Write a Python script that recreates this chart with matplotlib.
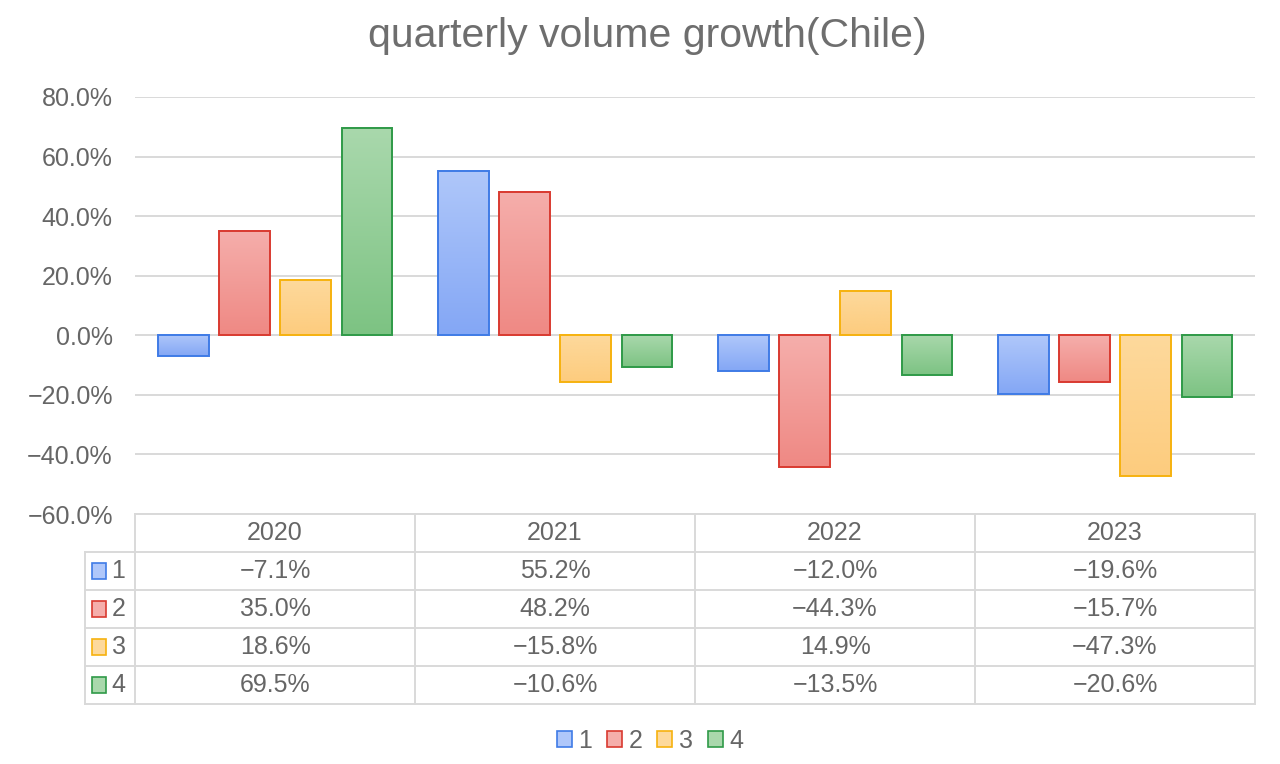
import matplotlib
matplotlib.use("Agg")
import matplotlib.pyplot as plt
import numpy as np
from matplotlib.patches import Rectangle, Patch
from matplotlib.colors import to_rgb

plt.rcParams['font.family'] = ['Liberation Sans', 'DejaVu Sans']

# ---- data ----
years = ["2020", "2021", "2022", "2023"]
quarters = ["1", "2", "3", "4"]
q1 = [-7.1, 55.2, -12.0, -19.6]
q2 = [35.0, 48.2, -44.3, -15.7]
q3 = [18.6, -15.8, 14.9, -47.3]
q4 = [69.5, -10.6, -13.5, -20.6]
series = [q1, q2, q3, q4]
yticks = [-60, -40, -20, 0, 20, 40, 60, 80]

# ---- style ----
edge_cols = ["#3f7be6", "#d93a30", "#f6b20f", "#2f9a48"]
top_cols = ["#afc7fa", "#f5aeab", "#fdd99c", "#a9d8ac"]
bot_cols = ["#84a7f5", "#ef8984", "#fdcc7e", "#7dc383"]
text_col = "#666666"
grid_col = "#d9d9d9"
fs = 18

fig = plt.figure(figsize=(12.8, 7.64), dpi=100)
ax = fig.add_axes([135/1280, 1-514/764, 1120/1280, (514-97)/764])

slot = 0.218
width = 0.179
n = len(series)
for i, vals in enumerate(series):
    c0 = np.array(to_rgb(top_cols[i]))
    c1 = np.array(to_rgb(bot_cols[i]))
    grad = np.linspace(0, 1, 64)[:, None]
    img = (c0[None, :] * (1 - grad) + c1[None, :] * grad)[:, None, :]
    for j, v in enumerate(vals):
        xc = j + (i - (n - 1) / 2) * slot
        x0 = xc - width / 2
        lo, hi = min(0, v), max(0, v)
        ax.imshow(img, extent=[x0, x0 + width, lo, hi], aspect='auto',
                  origin='upper', zorder=2, interpolation='bilinear')
        ax.add_patch(Rectangle((x0, lo), width, hi - lo, facecolor='none',
                               edgecolor=edge_cols[i], lw=1.4, zorder=3))

ax.set_xlim(-0.5, len(years) - 0.5)
ax.set_ylim(-60, 80)
ax.set_yticks(yticks)
ax.set_yticklabels([f"{t:.1f}%".replace("-", "\u2212") for t in yticks],
                   fontsize=fs, color=text_col)
ax.tick_params(axis='y', length=0, pad=16)
ax.set_xticks([])
for s in ax.spines.values():
    s.set_visible(False)
ax.grid(axis='y', color=grid_col, lw=1.4, zorder=0)
ax.set_axisbelow(True)

fig.text(647/1280, 1-36/764, "quarterly volume growth(Chile)", ha='center',
         va='center', fontsize=29.5, color="#6e6e6e")

# ---- data table ----
extra = 50/280
tax = fig.add_axes([85/1280, 1-704/764, 1170/1280, (704-514)/764])
tax.set_xlim(-0.5 - extra, len(years) - 0.5)
tax.set_ylim(len(series) + 1, 0)
tax.axis('off')
lw = 1.4
tax.plot([-0.5, len(years) - 0.5], [0, 0], color=grid_col, lw=lw, clip_on=False)
for r in range(1, len(series) + 2):
    tax.plot([-0.5 - extra, len(years) - 0.5], [r, r], color=grid_col, lw=lw, clip_on=False)
tax.plot([-0.5 - extra, -0.5 - extra], [1, len(series) + 1], color=grid_col, lw=lw, clip_on=False)
for c in range(len(years) + 1):
    tax.plot([c - 0.5, c - 0.5], [0, len(series) + 1], color=grid_col, lw=lw, clip_on=False)
for j, y in enumerate(years):
    tax.text(j, 0.5, y, ha='center', va='center', fontsize=fs, color=text_col)
for i, vals in enumerate(series):
    r = i + 1.5
    tax.add_patch(Rectangle((-0.5 - extra + 0.025, r - 0.2), 0.05, 0.4,
                            facecolor=top_cols[i], edgecolor=edge_cols[i], lw=1.2,
                            clip_on=False))
    tax.text(-0.5 - extra + 0.095, r, quarters[i], ha='left', va='center',
             fontsize=fs, color=text_col)
    for j, v in enumerate(vals):
        tax.text(j, r, f"{v:.1f}%".replace("-", "\u2212"), ha='center', va='center',
                 fontsize=fs, color=text_col)

# ---- legend ----
handles = [Patch(facecolor=top_cols[i], edgecolor=edge_cols[i], lw=1.2) for i in range(n)]
fig.legend(handles, quarters, loc='center', bbox_to_anchor=(650/1280, 1-741/764),
           ncol=4, frameon=False, fontsize=fs, handlelength=0.6, handleheight=0.6,
           handletextpad=0.25, columnspacing=0.6, labelcolor=text_col)

fig.savefig("out.png", dpi=100)
